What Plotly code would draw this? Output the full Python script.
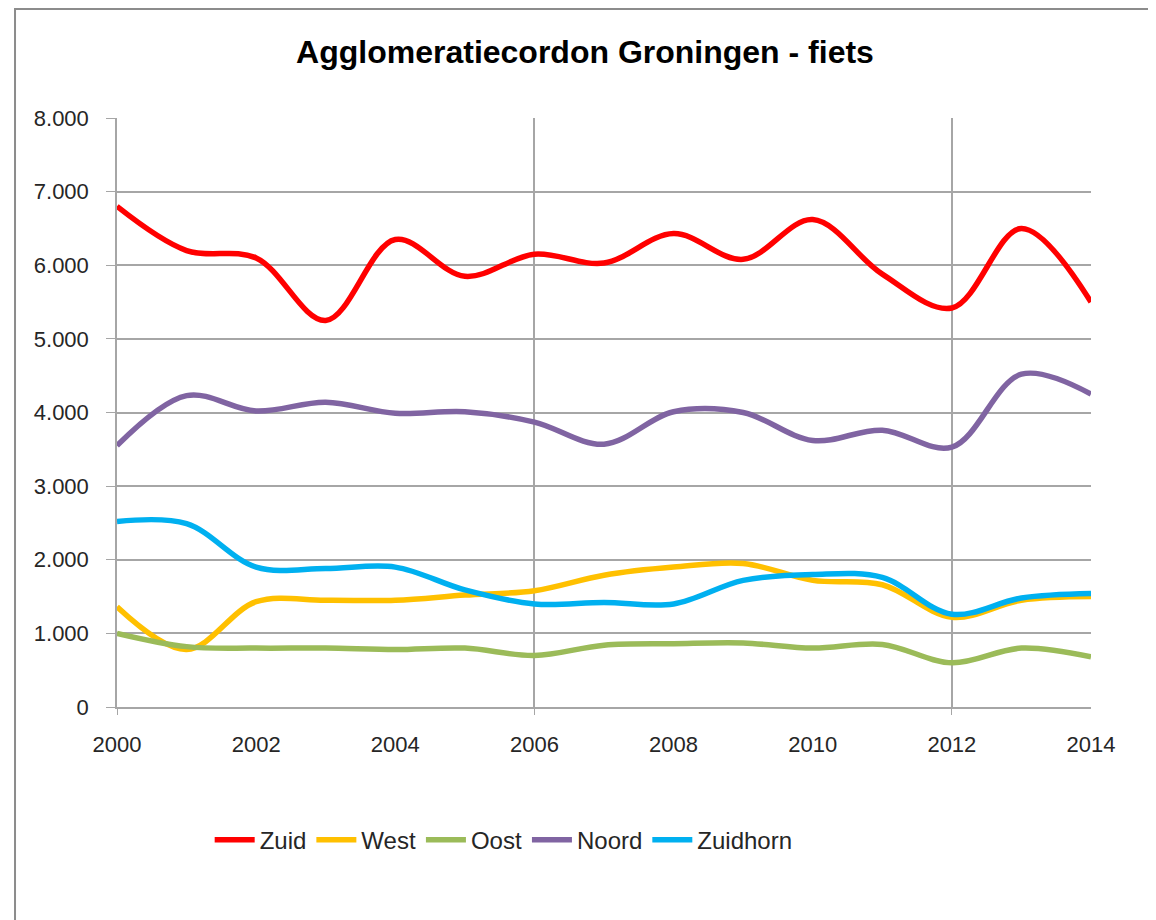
import plotly.graph_objects as go

years = list(range(2000, 2015))
zuid = [6800, 6200, 6100, 5250, 6350, 5850, 6150, 6030, 6430, 6080, 6620, 5880, 5420, 6500, 5500]
west = [1360, 780, 1430, 1450, 1450, 1520, 1580, 1790, 1900, 1950, 1720, 1660, 1220, 1450, 1500]
oost = [1000, 820, 800, 800, 780, 800, 700, 840, 860, 870, 800, 850, 600, 800, 680]
noord = [3550, 4230, 4020, 4140, 3990, 4010, 3870, 3570, 4010, 4000, 3620, 3760, 3530, 4520, 4250]
zuidhorn = [2520, 2490, 1900, 1880, 1900, 1590, 1400, 1420, 1400, 1720, 1800, 1760, 1260, 1480, 1540]

series = [
    ("Zuid", zuid, "#FF0000"),
    ("West", west, "#FFC000"),
    ("Oost", oost, "#9BBB59"),
    ("Noord", noord, "#8064A2"),
    ("Zuidhorn", zuidhorn, "#00B0F0"),
]

FONT = "Liberation Sans, Arial, sans-serif"
GRID = "#A6A6A6"

fig = go.Figure()
for name, vals, color in series:
    fig.add_trace(go.Scatter(
        x=years, y=vals, name=name, mode="lines",
        line=dict(color=color, width=5.5, shape="spline", smoothing=1.0),
        xaxis="x", yaxis="y",
    ))

fig.update_layout(
    width=1148, height=912,
    margin=dict(l=109, r=65, t=110, b=213),
    paper_bgcolor="white", plot_bgcolor="white",
    separators=",.",
    font=dict(family=FONT, size=22, color="#262626"),
    title=dict(
        text="<b>Agglomeratiecordon Groningen - fiets</b>",
        x=0.5026, xanchor="center", y=0.952, yanchor="middle",
        font=dict(family=FONT, size=32, color="#000000"),
    ),
    xaxis=dict(
        range=[2000, 2014], tick0=2000, dtick=6,
        showgrid=True, gridcolor=GRID, gridwidth=1.5,
        showline=True, linecolor=GRID, linewidth=1.5,
        ticks="outside", ticklen=6, tickcolor=GRID,
        showticklabels=False, zeroline=False,
    ),
    xaxis2=dict(
        range=[2000, 2014], tick0=2000, dtick=2,
        overlaying="x", anchor="y", side="bottom",
        showgrid=False, showline=False, zeroline=False,
        ticks="", ticklabelstandoff=22,
        tickfont=dict(family=FONT, size=22, color="#262626"),
    ),
    yaxis=dict(
        range=[0, 8000], dtick=1000, tickformat=",d",
        showgrid=True, gridcolor=GRID, gridwidth=1.5,
        showline=True, linecolor=GRID, linewidth=1.5,
        ticks="outside", ticklen=9, tickcolor=GRID,
        ticklabelstandoff=13, zeroline=False,
        tickfont=dict(family=FONT, size=22, color="#262626"),
    ),
    legend=dict(
        orientation="h", x=0.397, xanchor="center", y=-0.226, yanchor="middle",
        font=dict(family=FONT, size=24, color="#262626"),
        itemwidth=40, bgcolor="rgba(0,0,0,0)",
    ),
    showlegend=True,
    shapes=[dict(
        type="rect", xref="paper", yref="paper",
        x0=-0.1047, x1=1.0647, y0=-0.40, y1=1.185,
        line=dict(color="#8C8C8C", width=2), fillcolor="rgba(0,0,0,0)",
        layer="below",
    )],
)

# invisible helper trace so the label axis (xaxis2) is drawn
fig.add_trace(go.Scatter(x=[2000, 2014], y=[None, None], xaxis="x2", yaxis="y",
                         showlegend=False, hoverinfo="skip", mode="lines"))

fig.write_html("out.html")
